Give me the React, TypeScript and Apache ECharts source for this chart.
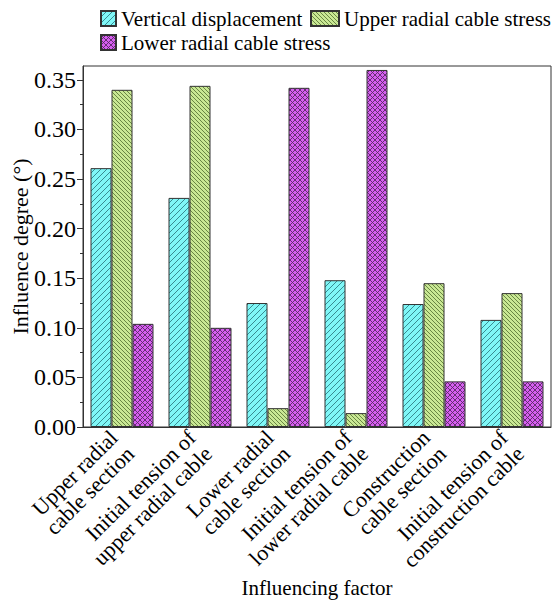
import React, { useEffect, useRef } from "react";
import * as echarts from "echarts";

const categories = [
  "Upper radial\ncable section",
  "Initial tension of\nupper radial cable",
  "Lower radial\ncable section",
  "Initial tension of\nlower radial cable",
  "Construction\ncable section",
  "Initial tension of\nconstruction cable",
];
const verticalDisplacement = [0.261, 0.231, 0.125, 0.148, 0.124, 0.108];
const upperRadialStress = [0.340, 0.344, 0.019, 0.014, 0.145, 0.135];
const lowerRadialStress = [0.104, 0.100, 0.342, 0.360, 0.046, 0.046];
const majorTicks = [0, 0.05, 0.1, 0.15, 0.2, 0.25, 0.3, 0.35];
const minorTicks = [0.025, 0.075, 0.125, 0.175, 0.225, 0.275, 0.325];

const FONT = "Liberation Serif";
const INK = "#333";

// Small repeating tiles for hatched bar fills
function makeTile(
  size: number,
  bg: string,
  line: string,
  draw: (ctx: CanvasRenderingContext2D, s: number) => void
) {
  const c = document.createElement("canvas");
  c.width = size;
  c.height = size;
  const ctx = c.getContext("2d")!;
  ctx.fillStyle = bg;
  ctx.fillRect(0, 0, size, size);
  ctx.strokeStyle = line;
  ctx.fillStyle = line;
  ctx.lineWidth = 0.9;
  draw(ctx, size);
  return { image: c, repeat: "repeat", imageWidth: size, imageHeight: size } as any;
}

function forwardSlash(ctx: CanvasRenderingContext2D, s: number) {
  ctx.beginPath();
  for (let k = -1; k <= 1; k++) {
    ctx.moveTo(k * s, s);
    ctx.lineTo(k * s + s, 0);
  }
  ctx.stroke();
}

function backSlash(ctx: CanvasRenderingContext2D, s: number) {
  ctx.beginPath();
  for (let k = -1; k <= 1; k++) {
    ctx.moveTo(k * s, 0);
    ctx.lineTo(k * s + s, s);
  }
  ctx.stroke();
}

function crossHatch(ctx: CanvasRenderingContext2D, s: number) {
  forwardSlash(ctx, s);
  backSlash(ctx, s);
}

export default function App() {
  const ref = useRef<HTMLDivElement>(null);

  useEffect(() => {
    if (!ref.current) return;
    const chart = echarts.init(ref.current, undefined, { renderer: "svg" });

    const cyanFill = makeTile(6, "#7ff7f7", "#2f7f86", forwardSlash);
    const greenFill = makeTile(4, "#c9e894", "#5d7a3a", backSlash);
    const magentaFill = makeTile(5, "#d65ff0", "#5a2a66", crossHatch);

    const legendText = { fontFamily: FONT, fontSize: 21, color: "#000" };
    const legendBase = {
      icon: "rect",
      itemHeight: 15,
      itemGap: 0,
      padding: 0,
      textStyle: legendText,
    };

    const option: echarts.EChartsOption = {
      animation: false,
      backgroundColor: "#fff",
      textStyle: { fontFamily: FONT },
      legend: [
        { ...legendBase, data: ["Vertical displacement"], left: 100, top: 8, itemWidth: 15 },
        { ...legendBase, data: ["Upper radial cable stress"], left: 310, top: 8, itemWidth: 28 },
        { ...legendBase, data: ["Lower radial cable stress"], left: 100, top: 32, itemWidth: 15 },
      ] as any,
      grid: {
        left: 83,
        right: 4,
        top: 66,
        bottom: 173,
        show: true,
        borderColor: INK,
        borderWidth: 1,
        backgroundColor: "transparent",
        outerBoundsMode: "none",
        containLabel: false,
      } as any,
      xAxis: [
        {
          type: "category",
          data: categories,
          name: "Influencing factor",
          nameLocation: "middle",
          nameGap: 150,
          nameMoveOverlap: false,
          nameTextStyle: { fontFamily: FONT, fontSize: 21, color: "#000" },
          axisLine: { lineStyle: { color: INK, width: 1 } },
          axisTick: { alignWithLabel: true, length: 6, lineStyle: { color: INK } },
          axisLabel: {
            rotate: 45,
            interval: 0,
            margin: 15,
            fontFamily: FONT,
            fontSize: 22,
            lineHeight: 23,
            color: "#000",
          },
          splitLine: { show: false },
        } as any,
        {
          type: "category",
          data: categories,
          position: "bottom",
          axisLine: { show: false },
          axisTick: { length: 3, lineStyle: { color: INK } },
          axisLabel: { show: false },
          splitLine: { show: false },
        },
      ],
      yAxis: [
        {
          type: "value",
          min: 0,
          max: 0.364,
          name: "Influence degree (°)",
          nameLocation: "middle",
          nameGap: 52,
          nameMoveOverlap: false,
          nameTextStyle: { fontFamily: FONT, fontSize: 22, color: "#000" },
          axisLine: { show: true, lineStyle: { color: INK, width: 1 } },
          axisTick: {
            show: true,
            length: 6,
            customValues: majorTicks,
            lineStyle: { color: INK },
          },
          axisLabel: {
            customValues: majorTicks,
            formatter: (v: number) => v.toFixed(2),
            fontFamily: FONT,
            fontSize: 24,
            color: "#000",
            margin: 7,
          },
          splitLine: { show: false },
        } as any,
        {
          type: "value",
          min: 0,
          max: 0.364,
          position: "left",
          axisLine: { show: false },
          axisTick: {
            show: true,
            length: 3,
            customValues: minorTicks,
            lineStyle: { color: INK },
          } as any,
          axisLabel: { show: false },
          splitLine: { show: false },
        },
      ],
      series: [
        {
          name: "Vertical displacement",
          type: "bar",
          data: verticalDisplacement,
          barWidth: 21,
          barGap: "0%",
          itemStyle: { color: cyanFill, borderColor: INK, borderWidth: 1 },
        },
        {
          name: "Upper radial cable stress",
          type: "bar",
          data: upperRadialStress,
          barWidth: 21,
          barGap: "0%",
          itemStyle: { color: greenFill, borderColor: INK, borderWidth: 1 },
        },
        {
          name: "Lower radial cable stress",
          type: "bar",
          data: lowerRadialStress,
          barWidth: 21,
          barGap: "0%",
          itemStyle: { color: magentaFill, borderColor: INK, borderWidth: 1 },
        },
      ],
    };

    chart.setOption(option);
    return () => chart.dispose();
  }, []);

  return (
    <div
      ref={ref}
      style={{ position: "fixed", left: 0, top: 0, width: 555, height: 600 }}
    />
  );
}
